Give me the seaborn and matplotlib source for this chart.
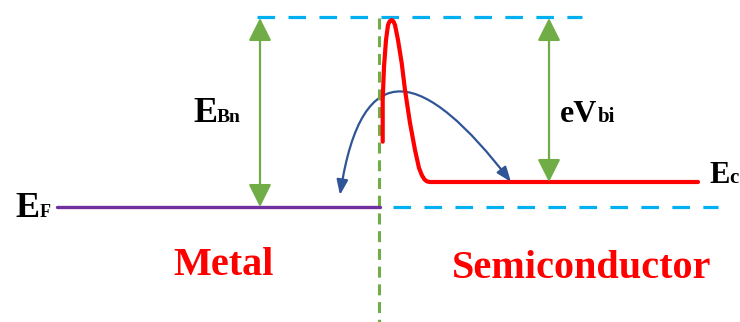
import numpy as np
import pandas as pd
import matplotlib.pyplot as plt
import seaborn as sns
from matplotlib.path import Path
from matplotlib.patches import FancyArrowPatch

# diagram geometry in picture units (x to the right, y downward)
barrier_y = 17
fermi_y = 207
ec_y = 182
interface_x = 379

# conduction band edge on the semiconductor side
ec_x = [382.7, 382.7, 384, 386, 388, 389.5, 391.7, 393.5, 395, 398, 401.7, 405, 410, 415, 419,
        422, 424.5, 427, 430, 698]
ec_yv = [141.7, 100, 67, 40, 25, 21.5, 20, 21.5, 25, 40, 63, 90, 123, 150, 168,
         175.5, 179.5, 181.4, 182, 182]

# Fermi level of the metal
ef_x = [57, 380]
ef_yv = [fermi_y, fermi_y]

# dashed reference levels
top_dash_x = [257, 582]
low_dash_x = [393, 718]

# double arrows: (x, top, bottom)
ebn_arrow = (260, 18, 207)
vbi_arrow = (549, 18, 182)

# electron path control points (cubic Bezier)
path_x = [340, 362, 425, 511]
path_y = [195, 50, 70, 182]

labels = [
    # main text, subscript, x, sub x, baseline, size, sub size
    ("E", "Bn", 193, 217, 122, 26, 14),
    ("E", "F", 15, 40, 217, 26, 13),
    ("eV", "bi", 560, 598, 122, 23, 15),
    ("E", "c", 709, 729, 183, 22, 15),
]
regions = [("Metal", 173, 275), ("Semiconductor", 452, 278)]

df_ec = pd.DataFrame({"x": ec_x, "y": ec_yv})
df_ef = pd.DataFrame({"x": ef_x, "y": ef_yv})

sns.set_style("white")
fig = plt.figure(figsize=(7.4, 3.22), dpi=100)
ax = fig.add_axes([0, 0, 1, 1])

cyan = "#00B0F0"
green = "#70AD47"

ax.plot(top_dash_x, [barrier_y, barrier_y], color=cyan, lw=2.3, dashes=(5.5, 4.2))
ax.plot(low_dash_x, [fermi_y, fermi_y], color=cyan, lw=2.3, dashes=(5.5, 4.2))
ax.plot([interface_x, interface_x], [18, 322], color=green, lw=2.2, dashes=(3.6, 2.2))

sns.lineplot(data=df_ef, x="x", y="y", color="#7030A0", lw=2.4, sort=False, estimator=None, ax=ax)
sns.lineplot(data=df_ec, x="x", y="y", color="#FF0000", lw=3.0, sort=False, estimator=None, ax=ax)
ax.set_xlim(0, 740)
ax.set_ylim(322, 0)
ax.axis("off")

for x, y0, y1 in [ebn_arrow, vbi_arrow]:
    ax.annotate("", xy=(x, y0), xytext=(x, y1),
                arrowprops=dict(arrowstyle="<|-|>,head_length=0.7,head_width=0.35",
                                color=green, lw=1.6, mutation_scale=20,
                                shrinkA=0, shrinkB=0))

verts = list(zip(path_x, path_y))
codes = [Path.MOVETO, Path.CURVE4, Path.CURVE4, Path.CURVE4]
ax.add_patch(FancyArrowPatch(path=Path(verts, codes),
                             arrowstyle="<|-|>,head_length=0.45,head_width=0.17",
                             color="#2F5597", lw=1.6, mutation_scale=20))

serif = "Liberation Serif"
for main, sub, x, xs, yb, size, ssize in labels:
    ax.text(x, yb, main, fontsize=size, family=serif, weight="bold", color="black",
            va="baseline", ha="left")
    ax.text(xs, yb, sub, fontsize=ssize, family=serif, weight="bold", color="black",
            va="baseline", ha="left")

for name, x, yb in regions:
    ax.text(x, yb, name, fontsize=29, family=serif, weight="bold", color="#FF0000",
            va="baseline", ha="left")

fig.savefig("out.png", dpi=100)
